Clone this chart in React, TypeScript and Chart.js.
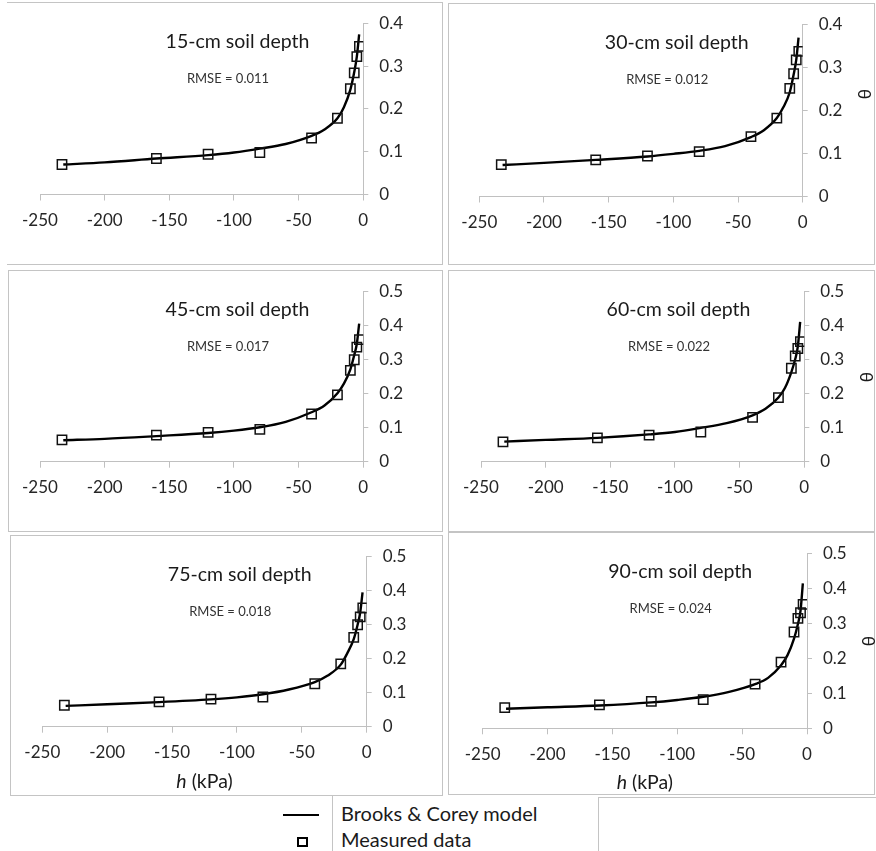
import React, { useEffect, useRef } from "react";
import { Chart, registerables } from "chart.js";

Chart.register(...registerables);

const FONT = "Lato, 'Open Sans', 'DejaVu Sans', sans-serif";

// ---------- data ----------
const hMeasured = [-233, -160, -120, -80, -40, -20, -10, -7, -5, -3];
const hModel = [-232, -200, -160, -120, -100, -80, -60, -40, -30, -20, -15, -10, -7, -5, -3.2];

const depthLabels = [
  "15-cm soil depth",
  "30-cm soil depth",
  "45-cm soil depth",
  "60-cm soil depth",
  "75-cm soil depth",
  "90-cm soil depth",
];
const rmseLabels = [
  "RMSE = 0.011",
  "RMSE = 0.012",
  "RMSE = 0.017",
  "RMSE = 0.022",
  "RMSE = 0.018",
  "RMSE = 0.024",
];
const yAxisMax = [0.4, 0.4, 0.5, 0.5, 0.5, 0.5];
const xTickStep = 50;
const yTickStep = 0.1;
const xAxisMin = -250;
const xAxisMax = 0;

const measured15 = [0.07, 0.084, 0.094, 0.098, 0.132, 0.178, 0.247, 0.284, 0.322, 0.346];
const measured30 = [0.074, 0.085, 0.094, 0.104, 0.139, 0.182, 0.251, 0.285, 0.317, 0.337];
const measured45 = [0.064, 0.078, 0.086, 0.095, 0.14, 0.196, 0.268, 0.299, 0.336, 0.358];
const measured60 = [0.058, 0.07, 0.078, 0.087, 0.13, 0.188, 0.274, 0.31, 0.332, 0.352];
const measured75 = [0.063, 0.073, 0.081, 0.087, 0.126, 0.184, 0.262, 0.299, 0.322, 0.348];
const measured90 = [0.059, 0.067, 0.077, 0.082, 0.126, 0.189, 0.275, 0.314, 0.33, 0.354];

const model15 = [0.07, 0.075, 0.084, 0.092, 0.098, 0.107, 0.118, 0.137, 0.152, 0.178, 0.204, 0.245, 0.286, 0.322, 0.374];
const model30 = [0.073, 0.078, 0.085, 0.093, 0.099, 0.106, 0.117, 0.138, 0.154, 0.182, 0.207, 0.242, 0.283, 0.317, 0.369];
const model45 = [0.063, 0.067, 0.075, 0.084, 0.091, 0.101, 0.117, 0.145, 0.165, 0.201, 0.229, 0.271, 0.313, 0.346, 0.405];
const model60 = [0.059, 0.064, 0.07, 0.08, 0.087, 0.099, 0.113, 0.136, 0.155, 0.188, 0.216, 0.263, 0.301, 0.338, 0.41];
const model75 = [0.061, 0.066, 0.072, 0.08, 0.086, 0.095, 0.109, 0.131, 0.15, 0.182, 0.215, 0.257, 0.299, 0.335, 0.394];
const model90 = [0.056, 0.06, 0.065, 0.074, 0.081, 0.09, 0.104, 0.126, 0.144, 0.18, 0.209, 0.256, 0.298, 0.335, 0.414];

const measuredSeries = [measured15, measured30, measured45, measured60, measured75, measured90];
const modelSeries = [model15, model30, model45, model60, model75, model90];

const legendLabels = ["Brooks & Corey model", "Measured data"];
const xTitleItalic = "h";
const xTitleRest = " (kPa)";
const yTitle = "θ";

// ---------- layout (page pixels) ----------
type Box = { l: number; t: number; r: number; b: number };
type PanelLayout = {
  box: Box;
  area: Box;
  theta: number | null; // vertical offset of θ from chart top
  xTitle: boolean;
  hideLeft?: boolean;
};

const LAYOUT: PanelLayout[] = [
  { box: { l: 7, t: 2, r: 443, b: 265 }, area: { l: 40, t: 15.7, r: 363.3, b: 194.5 }, theta: null, xTitle: false, hideLeft: true },
  { box: { l: 448, t: 3, r: 875, b: 265 }, area: { l: 479.3, t: 18.3, r: 802.7, b: 196.5 }, theta: 70, xTitle: false },
  { box: { l: 8, t: 270, r: 443, b: 532 }, area: { l: 40, t: 283.3, r: 363.3, b: 461.7 }, theta: null, xTitle: false },
  { box: { l: 448, t: 270, r: 875, b: 532 }, area: { l: 481, t: 284, r: 804.3, b: 461.7 }, theta: 86, xTitle: false },
  { box: { l: 10, t: 535, r: 443, b: 796 }, area: { l: 42.3, t: 548.3, r: 366.7, b: 726.7 }, theta: null, xTitle: true },
  { box: { l: 448, t: 532, r: 875, b: 795 }, area: { l: 482.7, t: 549.3, r: 807, b: 728.3 }, theta: 88, xTitle: true },
];

const AXIS_COLOR = "#c0c0c0";
const BORDER_COLOR = "#c4c4c4";
const TEXT_COLOR = "#262626";

function Panel({ idx }: { idx: number }) {
  const ref = useRef<HTMLCanvasElement | null>(null);
  const lay = LAYOUT[idx];
  const W = lay.box.r - lay.box.l;
  const H = lay.box.b - lay.box.t;

  useEffect(() => {
    if (!ref.current) return;
    const box = lay.box;
    const area = lay.area;
    const title = depthLabels[idx];
    const rmse = rmseLabels[idx];

    const textPlugin = {
      id: "panelText",
      afterDraw(chart: any) {
        const ctx = chart.ctx as CanvasRenderingContext2D;
        const a = chart.chartArea;
        ctx.save();
        ctx.textAlign = "center";
        ctx.textBaseline = "alphabetic";
        ctx.fillStyle = "#1a1a1a";
        ctx.font = `19.5px ${FONT}`;
        ctx.fillText(title, a.left + 197.5, a.top + 25);
        ctx.fillStyle = "#333333";
        ctx.font = `13px ${FONT}`;
        ctx.fillText(rmse, a.left + 188, a.top + 60);
        if (lay.theta !== null) {
          ctx.save();
          ctx.translate(a.right + 63, a.top + lay.theta);
          ctx.rotate(-Math.PI / 2);
          ctx.font = `17px ${FONT}`;
          ctx.fillStyle = "#1a1a1a";
          ctx.textBaseline = "middle";
          ctx.fillText(yTitle, 0, 0);
          ctx.restore();
        }
        if (lay.xTitle) {
          ctx.fillStyle = "#1a1a1a";
          ctx.textAlign = "left";
          ctx.font = `italic 19.5px ${FONT}`;
          const w1 = ctx.measureText(xTitleItalic).width;
          ctx.font = `19.5px ${FONT}`;
          const w2 = ctx.measureText(xTitleRest).width;
          const cx = (a.left + a.right) / 2;
          const x0 = cx - (w1 + w2) / 2;
          const by = a.bottom + 61;
          ctx.font = `italic 19.5px ${FONT}`;
          ctx.fillText(xTitleItalic, x0, by);
          ctx.font = `19.5px ${FONT}`;
          ctx.fillText(xTitleRest, x0 + w1, by);
        }
        ctx.restore();
      },
    };

    const chart = new Chart(ref.current, {
      type: "scatter",
      data: {
        datasets: [
          {
            label: legendLabels[1],
            data: hMeasured.map((h, i) => ({ x: h, y: measuredSeries[idx][i] })),
            showLine: false,
            pointStyle: "rect",
            pointRadius: 6.6,
            pointBorderWidth: 1.5,
            borderColor: "#111111",
            backgroundColor: "rgba(0,0,0,0)",
          },
          {
            label: legendLabels[0],
            data: hModel.map((h, i) => ({ x: h, y: modelSeries[idx][i] })),
            showLine: true,
            pointRadius: 0,
            borderColor: "#000000",
            borderWidth: 2.4,
            cubicInterpolationMode: "monotone",
            fill: false,
          },
        ],
      } as any,
      options: {
        responsive: false,
        animation: false,
        devicePixelRatio: 1,
        events: [],
        layout: {
          padding: { left: area.l - box.l, top: area.t - box.t, right: 0, bottom: 0 },
        },
        plugins: {
          legend: { display: false },
          tooltip: { enabled: false },
        },
        scales: {
          x: {
            type: "linear",
            position: "bottom",
            min: xAxisMin,
            max: xAxisMax,
            ticks: {
              stepSize: xTickStep,
              color: TEXT_COLOR,
              font: { family: FONT, size: 17 },
              padding: 10,
              maxRotation: 0,
            },
            grid: {
              display: true,
              drawOnChartArea: false,
              drawTicks: true,
              tickLength: 6,
              color: AXIS_COLOR,
              lineWidth: 1,
            },
            border: { display: true, color: AXIS_COLOR, width: 1 },
            afterFit: (s: any) => {
              s.height = box.b - area.b;
            },
          },
          y: {
            type: "linear",
            position: "right",
            min: 0,
            max: yAxisMax[idx],
            ticks: {
              stepSize: yTickStep,
              color: TEXT_COLOR,
              font: { family: FONT, size: 17 },
              padding: 11,
            },
            grid: {
              display: true,
              drawOnChartArea: false,
              drawTicks: true,
              tickLength: 5,
              color: AXIS_COLOR,
              lineWidth: 1,
            },
            border: { display: true, color: AXIS_COLOR, width: 1 },
            afterFit: (s: any) => {
              s.width = box.r - area.r;
            },
          },
        },
      } as any,
      plugins: [textPlugin],
    });
    return () => chart.destroy();
  }, [idx]);

  return (
    <>
      <div
        style={{
          position: "absolute",
          left: lay.box.l,
          top: lay.box.t,
          width: W,
          height: H,
          boxSizing: "border-box",
          border: `1px solid ${BORDER_COLOR}`,
          borderLeft: lay.hideLeft ? "none" : `1px solid ${BORDER_COLOR}`,
        }}
      />
      <canvas
        ref={ref}
        width={W}
        height={H}
        style={{ position: "absolute", left: lay.box.l, top: lay.box.t, width: W, height: H }}
      />
    </>
  );
}

export default function App() {
  return (
    <div
      style={{
        position: "absolute",
        left: 0,
        top: 0,
        width: 876,
        height: 851,
        background: "#ffffff",
        overflow: "hidden",
        fontFamily: FONT,
      }}
    >
      {LAYOUT.map((_, i) => (
        <Panel key={i} idx={i} />
      ))}
      {/* legend frame lines */}
      <div style={{ position: "absolute", left: 332, top: 796, width: 0, height: 60, borderLeft: `1px solid ${BORDER_COLOR}` }} />
      <div
        style={{
          position: "absolute",
          left: 598,
          top: 797,
          width: 290,
          height: 60,
          boxSizing: "border-box",
          borderTop: `1px solid ${BORDER_COLOR}`,
          borderLeft: `1px solid ${BORDER_COLOR}`,
        }}
      />
      {/* legend */}
      <div style={{ position: "absolute", left: 283, top: 814, width: 36, height: 2, background: "#000" }} />
      <div
        style={{
          position: "absolute",
          left: 297,
          top: 837,
          width: 11,
          height: 10,
          boxSizing: "border-box",
          border: "2px solid #000",
        }}
      />
      <div
        style={{
          position: "absolute",
          left: 341,
          top: 802.5,
          fontSize: 20,
          lineHeight: "20px",
          color: "#1a1a1a",
          whiteSpace: "nowrap",
        }}
      >
        {legendLabels[0]}
      </div>
      <div
        style={{
          position: "absolute",
          left: 341,
          top: 829,
          fontSize: 20,
          lineHeight: "20px",
          color: "#1a1a1a",
          whiteSpace: "nowrap",
        }}
      >
        {legendLabels[1]}
      </div>
    </div>
  );
}
